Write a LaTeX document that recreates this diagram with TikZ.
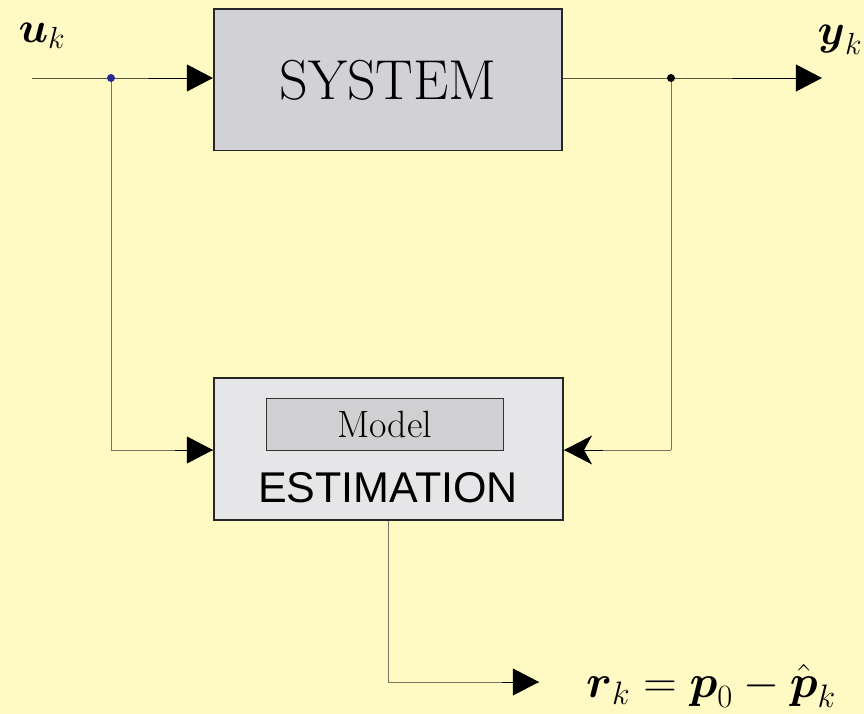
\RequirePackage{fix-cm}
\documentclass[tikz,border=0pt]{standalone}
\usepackage{amsmath}
\usepackage{amssymb}
\usepackage{fontspec}
\newfontfamily\blocksans{Liberation Sans}
\usetikzlibrary{arrows.meta}

\definecolor{bgyellow}{RGB}{255,250,196}
\definecolor{sysgray}{RGB}{210,210,214}
\definecolor{estgray}{RGB}{230,230,233}
\definecolor{modelgray}{RGB}{208,208,211}
\definecolor{wiregray}{RGB}{122,114,98}
\definecolor{dotblue}{RGB}{40,40,150}

\tikzset{
  block/.style={draw=black!85, line width=1.4pt, inner sep=0pt},
  wire/.style={line width=0.7pt},
  branch/.style={wire, draw=wiregray},
  tip/.style={-{Triangle[length=0.65cm,width=0.67cm]}},
  mathlabel/.style={font=\fontsize{31}{36}\selectfont}
}

\begin{document}
\begin{tikzpicture}[x=0.025cm, y=-0.025cm]
  % Background
  \fill[bgyellow] (0,0) rectangle (864,714);
  \useasboundingbox (0,0) rectangle (864,714);

  % System block
  \node[block, fill=sysgray, minimum width=8.7cm, minimum height=3.525cm,
        font=\fontsize{40}{44}\selectfont] (sys) at (388,80) {SYSTEM};

  % Estimation block with model inside
  \node[block, fill=estgray, minimum width=8.725cm, minimum height=3.55cm] (est) at (388.5,449) {};
  \node[draw=black!80, line width=0.5pt, fill=modelgray, minimum width=5.925cm, minimum height=1.3cm,
        font=\fontsize{27}{30}\selectfont] (model) at (384.5,424) {Model};
  \node[font=\blocksans\fontsize{30.6}{34}\selectfont] (esttext) at (388,488) {ESTIMATION};

  % Labels
  \node[mathlabel] (ulab) at (42,36) {$\boldsymbol{u}_k$};
  \node[mathlabel] (ylab) at (840,40) {$\boldsymbol{y}_k$};
  \node[mathlabel, font=\fontsize{33}{38}\selectfont] (rlab) at (711,686) {$\boldsymbol{r}_k = \boldsymbol{p}_0 - \hat{\boldsymbol{p}}_k$};

  % Junctions and free ends
  \coordinate (uin) at (32,78);
  \coordinate (uj) at (111,78);
  \coordinate (yj) at (671,78);
  \coordinate (yout) at (822,78);
  \coordinate (ucorner) at (111,450);
  \coordinate (ycorner) at (671,450);
  \coordinate (rcorner) at (388,682);
  \coordinate (rout) at (539,682);

  % Input and output wires
  \draw[wire, tip] (uin) -- (uj) -- (uj -| sys.west);
  \draw[wire, tip] (yj -| sys.east) -- (yj) -- (yout);

  % Feedback branches into estimation
  \draw[branch] (uj) -- (ucorner);
  \draw[branch] (ucorner) -- (ucorner -| est.west);
  \draw[wire, tip] ([xshift=-27]ucorner -| est.west) -- (ucorner -| est.west);
  \draw[branch] (yj) -- (ycorner);
  \draw[branch] (ycorner) -- (ycorner -| est.east);
  \draw[wire, -{Stealth[length=0.7cm,width=0.72cm,inset=0.2cm]}] ([xshift=28]ycorner -| est.east) -- (ycorner -| est.east);

  % Residual output
  \draw[branch] (est.south -| rcorner) -- (rcorner) -- (rout);
  \draw[wire, tip] ([xshift=-26]rout) -- (rout);

  % Junction dots
  \fill[dotblue] (uj) circle (0.1cm);
  \fill[black] (yj) circle (0.1cm);
\end{tikzpicture}
\end{document}
